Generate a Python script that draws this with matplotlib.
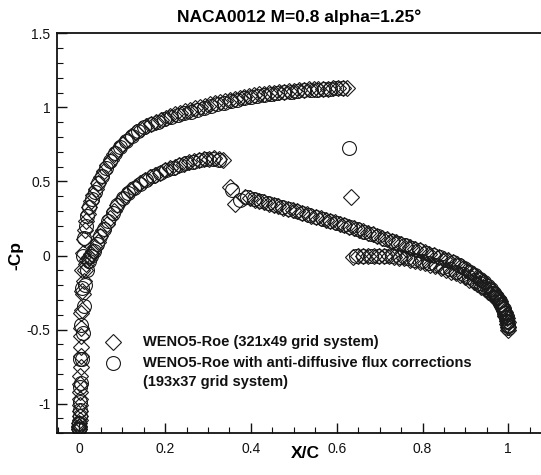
import matplotlib
matplotlib.use("Agg")
import matplotlib.pyplot as plt
from matplotlib.ticker import MultipleLocator, FormatStrFormatter

plt.rcParams['font.family'] = ['Liberation Sans', 'DejaVu Sans']
plt.rcParams['axes.unicode_minus'] = False

title = "NACA0012 M=0.8 alpha=1.25\u00b0"
xlabel = "X/C"
ylabel = "-Cp"
label_fine = "WENO5-Roe (321x49 grid system)"
label_adf = "WENO5-Roe with anti-diffusive flux corrections\n(193x37 grid system)"

# ---- WENO5-Roe, 321x49 grid (diamonds) ----
# upper surface, leading edge to shock
d_up_x = [0.0000, 0.0001, 0.0003, 0.0006, 0.0010, 0.0015, 0.0021, 0.0028, 0.0036, 0.0045,
          0.0056, 0.0069, 0.0085, 0.0105, 0.0130, 0.0160, 0.0195, 0.0235, 0.0280, 0.0330,
          0.0385, 0.0445, 0.0510, 0.0580, 0.0655, 0.0735, 0.0820, 0.0910,
          0.1005, 0.1105, 0.1210, 0.1320, 0.1435, 0.1550, 0.1665, 0.1780, 0.1895, 0.2010,
          0.2125, 0.2240, 0.2355, 0.2470, 0.2585, 0.2700, 0.2815, 0.2930, 0.3045, 0.3160,
          0.3275, 0.3390, 0.3505, 0.3620, 0.3735, 0.3850, 0.3965, 0.4080, 0.4195, 0.4310,
          0.4425, 0.4540, 0.4655, 0.4770, 0.4885, 0.5000, 0.5115, 0.5230, 0.5345, 0.5460,
          0.5575, 0.5690, 0.5805, 0.5920, 0.6035, 0.6150, 0.6240]
d_up_cp = [-1.17, -1.16, -1.13, -1.08, -1.01, -0.92, -0.81, -0.68, -0.54, -0.39,
           -0.24, -0.10, 0.02, 0.11, 0.17, 0.23, 0.28, 0.33, 0.37, 0.41,
           0.45, 0.49, 0.53, 0.57, 0.61, 0.645, 0.685, 0.72,
           0.75, 0.78, 0.81, 0.835, 0.855, 0.873, 0.889, 0.903, 0.917, 0.93,
           0.942, 0.953, 0.963, 0.973, 0.983, 0.993, 1.002, 1.011, 1.02, 1.029,
           1.037, 1.045, 1.052, 1.059, 1.065, 1.071, 1.077, 1.082, 1.087, 1.092,
           1.096, 1.1, 1.104, 1.107, 1.11, 1.113, 1.116, 1.119, 1.121, 1.123,
           1.125, 1.126, 1.127, 1.128, 1.129, 1.131, 1.133]
# upper surface, shock point and aft part
d_up_aft_x = [0.633,
              0.638, 0.650, 0.662, 0.674, 0.686, 0.698, 0.710, 0.722, 0.734, 0.746,
              0.758, 0.770, 0.782, 0.794, 0.806, 0.818, 0.830, 0.842, 0.854, 0.866,
              0.877, 0.888, 0.899, 0.909, 0.919, 0.928, 0.937, 0.945, 0.953, 0.960,
              0.967, 0.973, 0.979, 0.984, 0.988, 0.992, 0.995, 0.9975, 0.9992, 1.0]
d_up_aft_cp = [0.394,
               -0.01, -0.005, -0.002, 0.0, 0.0, 0.0, -0.002, -0.005, -0.009, -0.014,
               -0.02, -0.027, -0.035, -0.043, -0.052, -0.062, -0.072, -0.083, -0.095, -0.108,
               -0.12, -0.134, -0.148, -0.163, -0.178, -0.194, -0.21, -0.226, -0.243, -0.26,
               -0.278, -0.296, -0.316, -0.336, -0.356, -0.378, -0.4, -0.425, -0.45, -0.48]
# lower surface, leading edge to shock
d_lo_x = [0.0000, 0.0002, 0.0005, 0.0009, 0.0014, 0.0020, 0.0028, 0.0038, 0.0050, 0.0064,
          0.0080, 0.0100, 0.0124, 0.0152, 0.0185, 0.0222, 0.0265, 0.0313, 0.0366, 0.0425,
          0.0490, 0.0560, 0.0635, 0.0715, 0.0800, 0.0890, 0.0985, 0.1085, 0.1190, 0.1300,
          0.1415, 0.1530, 0.1645, 0.1760, 0.1875, 0.1990, 0.2105, 0.2220, 0.2335, 0.2450,
          0.2565, 0.2680, 0.2795, 0.2910, 0.3025, 0.3140, 0.3255, 0.3340]
d_lo_cp = [-1.17, -1.15, -1.11, -1.05, -0.97, -0.87, -0.75, -0.62, -0.49, -0.37,
           -0.26, -0.17, -0.10, -0.06, -0.03, -0.01, 0.01, 0.03, 0.06, 0.09,
           0.13, 0.17, 0.21, 0.255, 0.30, 0.34, 0.38, 0.41, 0.44, 0.465,
           0.49, 0.51, 0.53, 0.545, 0.56, 0.575, 0.59, 0.60, 0.61, 0.62,
           0.63, 0.637, 0.644, 0.65, 0.654, 0.655, 0.65, 0.645]
# lower surface, shock points and aft part
d_lo_aft_x = [0.351, 0.363,
              0.387, 0.398, 0.409, 0.420, 0.431, 0.442, 0.453, 0.464, 0.475, 0.486,
              0.497, 0.508, 0.519, 0.530, 0.541, 0.552, 0.563, 0.574, 0.585, 0.596,
              0.607, 0.618, 0.629, 0.640, 0.651, 0.662, 0.673, 0.684, 0.695, 0.706,
              0.717, 0.728, 0.739, 0.750, 0.761, 0.772, 0.783, 0.794, 0.805, 0.816,
              0.827, 0.838, 0.849, 0.860, 0.870, 0.880, 0.890, 0.900, 0.909, 0.918,
              0.927, 0.935, 0.943, 0.950, 0.957, 0.964, 0.970, 0.975, 0.980, 0.985,
              0.989, 0.993, 0.996, 0.998, 0.9995, 1.0]
d_lo_aft_cp = [0.463, 0.351,
               0.396, 0.387, 0.378, 0.369, 0.36, 0.351, 0.342, 0.333, 0.324, 0.316,
               0.307, 0.298, 0.289, 0.279, 0.269, 0.259, 0.25, 0.241, 0.232, 0.223,
               0.214, 0.205, 0.195, 0.185, 0.175, 0.164, 0.153, 0.142, 0.131, 0.12,
               0.109, 0.099, 0.088, 0.078, 0.067, 0.056, 0.045, 0.034, 0.022, 0.012,
               0.001, -0.01, -0.021, -0.033, -0.045, -0.058, -0.073, -0.09, -0.107, -0.124,
               -0.143, -0.161, -0.18, -0.198, -0.218, -0.24, -0.262, -0.285, -0.31, -0.345,
               -0.375, -0.41, -0.44, -0.465, -0.485, -0.50]

# ---- WENO5-Roe + anti-diffusive flux corrections, 193x37 grid (circles) ----
c_up_x = [0.0000, 0.0003, 0.0008, 0.0016, 0.0027, 0.0041, 0.0059, 0.0082, 0.0110, 0.0145,
          0.0187, 0.0237, 0.0295, 0.0362, 0.0438, 0.0523, 0.0617, 0.0720, 0.0832, 0.0953,
          0.1083, 0.1220, 0.1365, 0.1515, 0.1670, 0.1825, 0.1980, 0.2135, 0.2290, 0.2445,
          0.2600, 0.2755, 0.2910, 0.3065, 0.3220, 0.3375, 0.3530, 0.3685, 0.3840, 0.3995,
          0.4150, 0.4305, 0.4460, 0.4615, 0.4770, 0.4925, 0.5080, 0.5235, 0.5390, 0.5545,
          0.5700, 0.5850, 0.5995, 0.6130]
c_up_cp = [-1.17, -1.13, -1.04, -0.89, -0.70, -0.47, -0.22, 0.0, 0.12, 0.20,
           0.27, 0.33, 0.38, 0.43, 0.49, 0.54, 0.59, 0.64, 0.69, 0.73,
           0.77, 0.81, 0.84, 0.865, 0.885, 0.903, 0.92, 0.935, 0.948, 0.96,
           0.972, 0.984, 0.996, 1.008, 1.02, 1.03, 1.04, 1.05, 1.06, 1.068,
           1.076, 1.083, 1.09, 1.096, 1.101, 1.106, 1.11, 1.114, 1.117, 1.12,
           1.123, 1.126, 1.128, 1.13]
c_up_aft_x = [0.629,
              0.645, 0.662, 0.679, 0.696, 0.713, 0.730, 0.747, 0.764, 0.781, 0.798,
              0.815, 0.832, 0.848, 0.864, 0.879, 0.894, 0.908, 0.921, 0.933, 0.944,
              0.954, 0.963, 0.971, 0.978, 0.984, 0.989, 0.993, 0.996, 0.998, 1.0]
c_up_aft_cp = [0.727,
               0.0, 0.0, 0.0, 0.0, -0.002, -0.006, -0.011, -0.018, -0.027, -0.037,
               -0.049, -0.062, -0.077, -0.093, -0.11, -0.128, -0.147, -0.167, -0.188, -0.21,
               -0.232, -0.256, -0.28, -0.305, -0.33, -0.358, -0.386, -0.415, -0.44, -0.47]
c_lo_x = [0.0000, 0.0004, 0.0011, 0.0021, 0.0035, 0.0053, 0.0076, 0.0104, 0.0138, 0.0178,
          0.0225, 0.0280, 0.0343, 0.0414, 0.0493, 0.0580, 0.0675, 0.0778, 0.0890, 0.1010,
          0.1138, 0.1273, 0.1415, 0.1565, 0.1720, 0.1875, 0.2030, 0.2185, 0.2340, 0.2495,
          0.2650, 0.2805, 0.2960, 0.3115, 0.3265]
c_lo_cp = [-1.17, -1.14, -1.08, -0.99, -0.86, -0.70, -0.52, -0.34, -0.20, -0.10,
           -0.04, 0.0, 0.03, 0.08, 0.13, 0.18, 0.235, 0.29, 0.34, 0.385,
           0.42, 0.455, 0.485, 0.51, 0.535, 0.555, 0.575, 0.593, 0.608, 0.622,
           0.634, 0.644, 0.651, 0.654, 0.648]
c_lo_aft_x = [0.355, 0.375,
              0.392, 0.408, 0.424, 0.440, 0.456, 0.472, 0.488, 0.504, 0.520, 0.536,
              0.552, 0.568, 0.584, 0.600, 0.616, 0.632, 0.648, 0.664, 0.680, 0.696,
              0.712, 0.728, 0.744, 0.760, 0.776, 0.792, 0.808, 0.824, 0.840, 0.855,
              0.870, 0.884, 0.897, 0.910, 0.922, 0.933, 0.943, 0.952, 0.960, 0.967,
              0.974, 0.980, 0.985, 0.990, 0.994, 0.997, 0.999, 1.0]
c_lo_aft_cp = [0.441, 0.374,
               0.392, 0.379, 0.366, 0.353, 0.34, 0.327, 0.314, 0.301, 0.288, 0.274,
               0.259, 0.245, 0.233, 0.22, 0.207, 0.192, 0.177, 0.162, 0.146, 0.13,
               0.114, 0.099, 0.083, 0.068, 0.052, 0.036, 0.019, 0.004, -0.012, -0.027,
               -0.045, -0.064, -0.085, -0.109, -0.134, -0.158, -0.18, -0.203, -0.226, -0.25,
               -0.279, -0.31, -0.345, -0.385, -0.42, -0.45, -0.475, -0.49]

x_major = [0, 0.2, 0.4, 0.6, 0.8, 1.0]
y_major = [-1, -0.5, 0, 0.5, 1, 1.5]

# ---- figure ----
W, H = 541, 475
fig = plt.figure(figsize=(W / 100, H / 100), dpi=100)
ax_l, ax_r, ax_t, ax_b = 57.3, 541.0, 33.3, 433.3
ax = fig.add_axes([ax_l / W, 1 - ax_b / H, (ax_r - ax_l) / W, (ax_b - ax_t) / H])
ax.set_xlim(-0.0513, 1.0762)
ax.set_ylim(-1.2, 1.5)

ink = '#1a1a1a'
d_style = dict(linestyle='none', marker='D', markersize=8.2, markerfacecolor='none',
               markeredgecolor=ink, markeredgewidth=0.8)
c_style = dict(linestyle='none', marker='o', markersize=10.0, markerfacecolor='none',
               markeredgecolor=ink, markeredgewidth=0.8)

for xs, ys in [(d_up_x, d_up_cp), (d_up_aft_x, d_up_aft_cp),
               (d_lo_x, d_lo_cp), (d_lo_aft_x, d_lo_aft_cp)]:
    ax.plot(xs, ys, **d_style)
for xs, ys in [(c_up_x, c_up_cp), (c_up_aft_x, c_up_aft_cp),
               (c_lo_x, c_lo_cp), (c_lo_aft_x, c_lo_aft_cp)]:
    ax.plot(xs, ys, **c_style)

# axes frame and ticks
for side in ['left', 'bottom', 'top']:
    ax.spines[side].set_linewidth(1.3)
    ax.spines[side].set_color('#111111')
ax.spines['right'].set_visible(False)
ax.xaxis.set_major_locator(plt.FixedLocator(x_major))
ax.yaxis.set_major_locator(plt.FixedLocator(y_major))
ax.xaxis.set_minor_locator(MultipleLocator(0.05))
ax.yaxis.set_minor_locator(MultipleLocator(0.1))
ax.xaxis.set_major_formatter(FormatStrFormatter('%g'))
ax.yaxis.set_major_formatter(FormatStrFormatter('%g'))
ax.tick_params(which='both', direction='in', top=False, right=False, colors='#111111')
ax.tick_params(which='major', length=7.5, width=1.0, labelsize=10, pad=6)
ax.tick_params(which='minor', length=4.0, width=0.8)
ax.tick_params(axis='y', which='major', pad=5)

ax.set_title(title, fontsize=12.5, fontweight='bold', pad=8)
ax.set_xlabel(xlabel, fontsize=12.5, fontweight='bold')
ax.set_ylabel(ylabel, fontsize=12.5, fontweight='bold')
ax.xaxis.label.set(va='center', ha='center')
ax.yaxis.label.set(va='center', ha='center')
ax.xaxis.set_label_coords((305 - ax_l) / (ax_r - ax_l), (ax_b - 454) / (ax_b - ax_t))
ax.yaxis.set_label_coords((16 - ax_l) / (ax_r - ax_l), (ax_b - 256) / (ax_b - ax_t))

# key
def ax_pt(px, py):
    return (px - ax_l) / (ax_r - ax_l), (ax_b - py) / (ax_b - ax_t)

key_mx = 112.7
key_tx = 143.3
mx, my = ax_pt(key_mx, 342.3)
ax.plot([mx], [my], transform=ax.transAxes, clip_on=False, **d_style)
mx, my = ax_pt(key_mx, 362.7)
ax.plot([mx], [my], transform=ax.transAxes, clip_on=False, **c_style)
lines = [(label_fine, 342.3)] + list(zip(label_adf.split('\n'), [362.7, 381.7]))
for txt, py in lines:
    tx, ty = ax_pt(key_tx, py)
    ax.text(tx, ty, txt, transform=ax.transAxes, fontsize=10.5, fontweight='bold',
            ha='left', va='center', color='#111111')

fig.savefig('out.png', dpi=100)
